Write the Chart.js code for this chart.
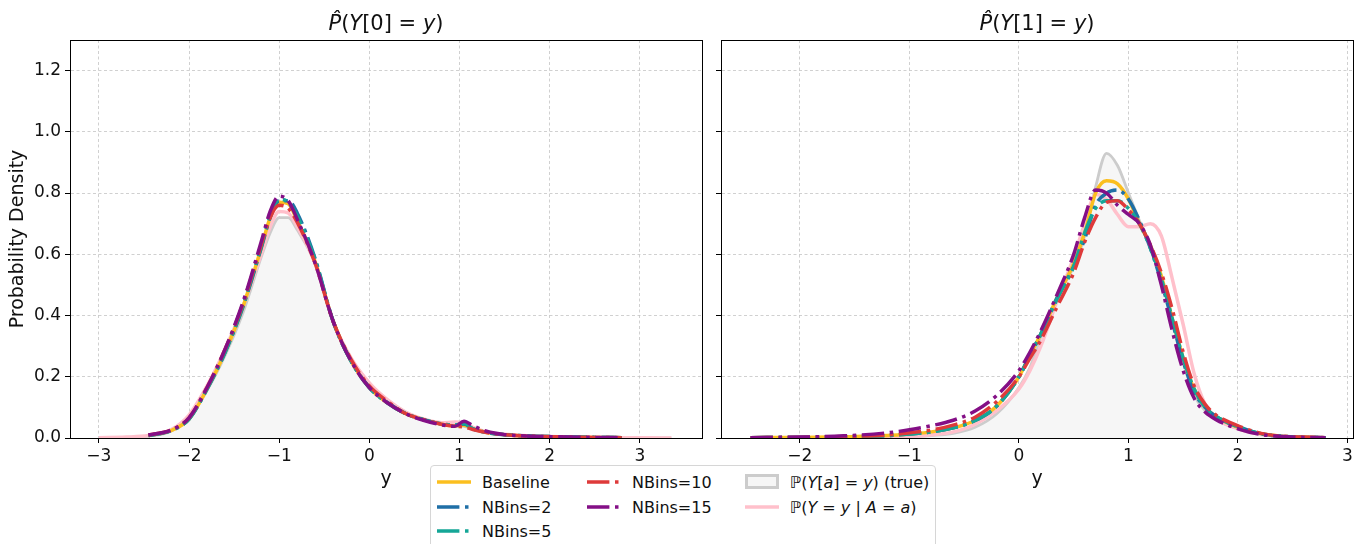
<!DOCTYPE html>
<html>
<head>
<meta charset="utf-8">
<script src="https://cdn.jsdelivr.net/npm/chart.js@4.4.0/dist/chart.umd.min.js"></script>
<style>
  body { margin:0; width:1365px; height:544px; overflow:hidden; position:relative; background:#fff; font-family:"DejaVu Sans", sans-serif; color:#111; }
  .wrap { position:absolute; top:0; }
  .ttl { position:absolute; top:10px; font-size:21px; line-height:27px; transform:translateX(-50%); white-space:nowrap; }
  .ttl i { font-style:italic; }
  #legend { position:absolute; left:430px; top:465px; width:504px; height:95px; border:1px solid #d6d6d6; border-radius:4px; background:#fff; }
  .it { position:absolute; height:22px; display:flex; align-items:center; font-size:16px; white-space:nowrap; }
  .it svg { margin-right:11px; }
</style>
</head>
<body>
<div class="wrap" style="left:0"><canvas id="left" width="710" height="544"></canvas></div>
<div class="wrap" style="left:711px"><canvas id="right" width="654" height="544"></canvas></div>
<div class="ttl" style="left:386px"><i>P̂</i>(<i>Y</i>[0] = <i>y</i>)</div>
<div class="ttl" style="left:1037px"><i>P̂</i>(<i>Y</i>[1] = <i>y</i>)</div>
<div id="legend"></div>
<script>
// Y[0] panel
const xLeft    = [-3.0, -2.7, -2.45, -2.2, -2.0, -1.8, -1.6, -1.4, -1.2, -1.1, -1.0, -0.9, -0.8, -0.6, -0.4, -0.2, 0.0, 0.2, 0.4, 0.6, 0.8, 0.95, 1.05, 1.15, 1.3, 1.5, 1.8, 2.1, 2.5, 2.8, 3.1, 3.35];
const trueLeft = [0.001, 0.002, 0.006, 0.022, 0.065, 0.155, 0.27, 0.41, 0.59, 0.67, 0.72, 0.72, 0.68, 0.57, 0.38, 0.26, 0.18, 0.125, 0.085, 0.06, 0.045, 0.04, 0.038, 0.03, 0.02, 0.012, 0.007, 0.004, 0.002, 0.001, 0.0005, 0.0];
const condLeft = [0.001, 0.003, 0.008, 0.027, 0.075, 0.17, 0.29, 0.43, 0.6, 0.69, 0.74, 0.735, 0.69, 0.57, 0.38, 0.26, 0.18, 0.125, 0.085, 0.062, 0.05, 0.052, 0.05, 0.035, 0.02, 0.012, 0.007, 0.004, 0.002, 0.001, 0.0005, 0.0];
const baseLeft = [null, null, 0.008, 0.024, 0.062, 0.16, 0.28, 0.43, 0.62, 0.72, 0.77, 0.765, 0.71, 0.575, 0.38, 0.25, 0.165, 0.115, 0.08, 0.06, 0.045, 0.04, 0.042, 0.03, 0.018, 0.011, 0.006, 0.004, 0.002, 0.001, null, null];
const nb2Left  = [null, null, 0.008, 0.024, 0.062, 0.16, 0.28, 0.43, 0.62, 0.72, 0.775, 0.775, 0.735, 0.585, 0.38, 0.25, 0.165, 0.115, 0.08, 0.06, 0.046, 0.042, 0.046, 0.03, 0.018, 0.011, 0.006, 0.004, 0.002, 0.001, null, null];
const nb5Left  = [null, null, 0.008, 0.024, 0.062, 0.16, 0.28, 0.435, 0.625, 0.725, 0.78, 0.77, 0.725, 0.58, 0.38, 0.25, 0.165, 0.115, 0.08, 0.06, 0.046, 0.043, 0.047, 0.03, 0.018, 0.011, 0.006, 0.004, 0.002, 0.001, null, null];
const nb10Left = [null, null, 0.01, 0.026, 0.066, 0.165, 0.29, 0.44, 0.63, 0.72, 0.76, 0.75, 0.705, 0.57, 0.38, 0.255, 0.17, 0.12, 0.08, 0.06, 0.045, 0.038, 0.036, 0.028, 0.018, 0.011, 0.006, 0.004, 0.002, 0.001, null, null];
const nb15Left = [null, null, 0.01, 0.026, 0.066, 0.165, 0.29, 0.445, 0.64, 0.74, 0.79, 0.775, 0.715, 0.57, 0.38, 0.25, 0.165, 0.115, 0.08, 0.058, 0.043, 0.038, 0.055, 0.04, 0.022, 0.011, 0.006, 0.004, 0.002, 0.001, null, null];

// Y[1] panel
const xRight    = [-2.45, -2.0, -1.6, -1.2, -1.0, -0.8, -0.6, -0.4, -0.2, 0.0, 0.1, 0.2, 0.35, 0.5, 0.6, 0.7, 0.8, 0.9, 1.0, 1.1, 1.2, 1.3, 1.4, 1.5, 1.6, 1.7, 1.8, 2.0, 2.2, 2.4, 2.6, 2.8];
const trueRight = [0.0, 0.0, 0.001, 0.002, 0.004, 0.008, 0.015, 0.035, 0.08, 0.165, 0.23, 0.33, 0.46, 0.56, 0.66, 0.82, 0.93, 0.89, 0.8, 0.71, 0.63, 0.52, 0.39, 0.25, 0.14, 0.09, 0.06, 0.03, 0.012, 0.005, 0.002, 0.0];
const condRight = [0.0, 0.0, 0.001, 0.003, 0.005, 0.01, 0.02, 0.045, 0.09, 0.16, 0.22, 0.3, 0.45, 0.59, 0.7, 0.795, 0.78, 0.73, 0.69, 0.69, 0.7, 0.66, 0.52, 0.37, 0.21, 0.11, 0.065, 0.03, 0.012, 0.005, 0.002, 0.001];
const baseRight = [0.001, 0.002, 0.004, 0.008, 0.013, 0.02, 0.033, 0.057, 0.105, 0.2, 0.27, 0.34, 0.46, 0.57, 0.67, 0.8, 0.84, 0.83, 0.78, 0.7, 0.63, 0.53, 0.39, 0.26, 0.16, 0.1, 0.07, 0.035, 0.015, 0.006, 0.003, 0.001];
const nb2Right  = [0.001, 0.002, 0.004, 0.008, 0.013, 0.02, 0.033, 0.057, 0.105, 0.2, 0.27, 0.34, 0.46, 0.56, 0.65, 0.76, 0.8, 0.81, 0.78, 0.71, 0.62, 0.51, 0.38, 0.25, 0.15, 0.1, 0.07, 0.038, 0.014, 0.005, 0.002, 0.001];
const nb5Right  = [0.001, 0.002, 0.004, 0.008, 0.013, 0.02, 0.033, 0.057, 0.105, 0.2, 0.27, 0.34, 0.455, 0.56, 0.67, 0.75, 0.775, 0.775, 0.75, 0.7, 0.62, 0.52, 0.39, 0.26, 0.16, 0.1, 0.07, 0.036, 0.015, 0.006, 0.002, 0.001];
const nb10Right = [0.001, 0.002, 0.005, 0.01, 0.017, 0.026, 0.042, 0.068, 0.12, 0.2, 0.26, 0.32, 0.43, 0.54, 0.64, 0.72, 0.77, 0.775, 0.745, 0.7, 0.63, 0.54, 0.42, 0.28, 0.17, 0.11, 0.075, 0.04, 0.016, 0.006, 0.003, 0.001];
const nb15Right = [0.001, 0.003, 0.007, 0.017, 0.027, 0.04, 0.058, 0.088, 0.14, 0.22, 0.28, 0.35, 0.47, 0.6, 0.72, 0.81, 0.8, 0.76, 0.73, 0.7, 0.63, 0.5, 0.35, 0.22, 0.13, 0.085, 0.06, 0.03, 0.012, 0.005, 0.002, 0.001];

const names = ['Baseline', 'NBins=2', 'NBins=5', 'NBins=10', 'NBins=15'];
const colors = ['#fbbf1f', '#1f6fa6', '#15a697', '#de3a3a', '#840f86'];
const DASHDOT = [22.4, 5.6, 3.5, 5.6];

const pts = (xs, ys) => xs.map((x, i) => ({ x, y: ys[i] }));

function makeSets(xs, est, truth, cond) {
  const common = { pointRadius: 0, borderWidth: 3.5, cubicInterpolationMode: 'monotone', borderCapStyle: 'butt', fill: false };
  const sets = [
    { ...common, label: 'true', data: pts(xs, truth), borderColor: '#cccccc', borderWidth: 2.8, fill: 'origin', backgroundColor: '#f6f6f6', order: 7 },
    { ...common, label: 'cond', data: pts(xs, cond), borderColor: '#ffc0cb', order: 6 },
  ];
  est.forEach((ys, i) => sets.push({
    ...common, label: names[i], data: pts(xs, ys), borderColor: colors[i],
    borderDash: i === 0 ? [] : DASHDOT, order: 5 - i,
  }));
  return sets;
}

const frame = {
  id: 'frame',
  afterDatasetsDraw(c) {
    const a = c.chartArea, g = c.ctx;
    g.save();
    g.strokeStyle = '#000'; g.lineWidth = 1;
    g.strokeRect(Math.round(a.left) + 0.5, Math.round(a.top) + 0.5, Math.round(a.right - a.left), Math.round(a.bottom - a.top));
    g.restore();
  },
};

const minus = v => String(v).replace('-', '\u2212');

function opts(xMin, xMax, showY, yWidth, padRight) {
  const grid = { color: '#c4c4c4', lineWidth: 0.8, tickColor: '#000', tickLength: 5, tickWidth: 1 };
  return {
    responsive: false, animation: false,
    layout: { padding: { top: 40, right: padRight, bottom: 54, left: 0 } },
    plugins: { legend: { display: false }, tooltip: { enabled: false } },
    scales: {
      x: {
        type: 'linear', min: xMin, max: xMax,
        grid, border: { color: '#000', dash: [3, 2.5] },
        ticks: { stepSize: 1, includeBounds: false, color: '#111', font: { family: 'DejaVu Sans', size: 17 }, padding: 3, maxRotation: 0, callback: v => minus(v) },
        title: { display: true, text: 'y', color: '#111', font: { family: 'DejaVu Sans', size: 19 }, padding: { top: 0, bottom: 0 } },
        afterFit: s => { s.height = 52; },
      },
      y: {
        min: 0, max: 1.3,
        grid, border: { color: '#000', dash: [3, 2.5] },
        ticks: { stepSize: 0.2, includeBounds: false, color: '#111', font: { family: 'DejaVu Sans', size: 17 }, padding: 4, callback: v => showY ? v.toFixed(1) : '' },
        title: { display: showY, text: 'Probability Density', color: '#111', font: { family: 'DejaVu Sans', size: 19 }, padding: { top: 7, bottom: 0 } },
        afterFit: s => { s.width = yWidth; },
      },
    },
  };
}

new Chart(document.getElementById('left'), {
  type: 'line',
  data: { datasets: makeSets(xLeft, [baseLeft, nb2Left, nb5Left, nb10Left, nb15Left], trueLeft, condLeft) },
  options: opts(-3.32, 3.69, true, 70, 8),
  plugins: [frame],
});
new Chart(document.getElementById('right'), {
  type: 'line',
  data: { datasets: makeSets(xRight, [baseRight, nb2Right, nb5Right, nb10Right, nb15Right], trueRight, condRight) },
  options: opts(-2.72, 3.05, false, 10, 12),
  plugins: [frame],
});

// legend (three columns, as in the figure)
function handle(color, dashed) {
  const da = dashed ? ` stroke-dasharray="${DASHDOT.join(' ')}"` : '';
  return `<svg width="34" height="20"><line x1="0" y1="10" x2="34" y2="10" stroke="${color}" stroke-width="3.5"${da}/></svg>`;
}
const legendItems = [
  [6, 5, handle(colors[0], false), 'Baseline'],
  [6, 30, handle(colors[1], true), 'NBins=2'],
  [6, 54, handle(colors[2], true), 'NBins=5'],
  [156, 5, handle(colors[3], true), 'NBins=10'],
  [156, 30, handle(colors[4], true), 'NBins=15'],
  [314, 5, '<svg width="34" height="20"><rect x="1.5" y="3.5" width="31" height="12" fill="#f6f6f6" stroke="#cccccc" stroke-width="3"/></svg>', '<span>ℙ(<i>Y</i>[<i>a</i>] = <i>y</i>) (true)</span>'],
  [314, 30, handle('#ffc0cb', false), '<span>ℙ(<i>Y</i> = <i>y</i> | <i>A</i> = <i>a</i>)</span>'],
];
document.getElementById('legend').innerHTML = legendItems.map(([l, t, h, txt]) =>
  `<div class="it" style="left:${l}px;top:${t}px">${h}${txt}</div>`).join('');
</script>
</body>
</html>
